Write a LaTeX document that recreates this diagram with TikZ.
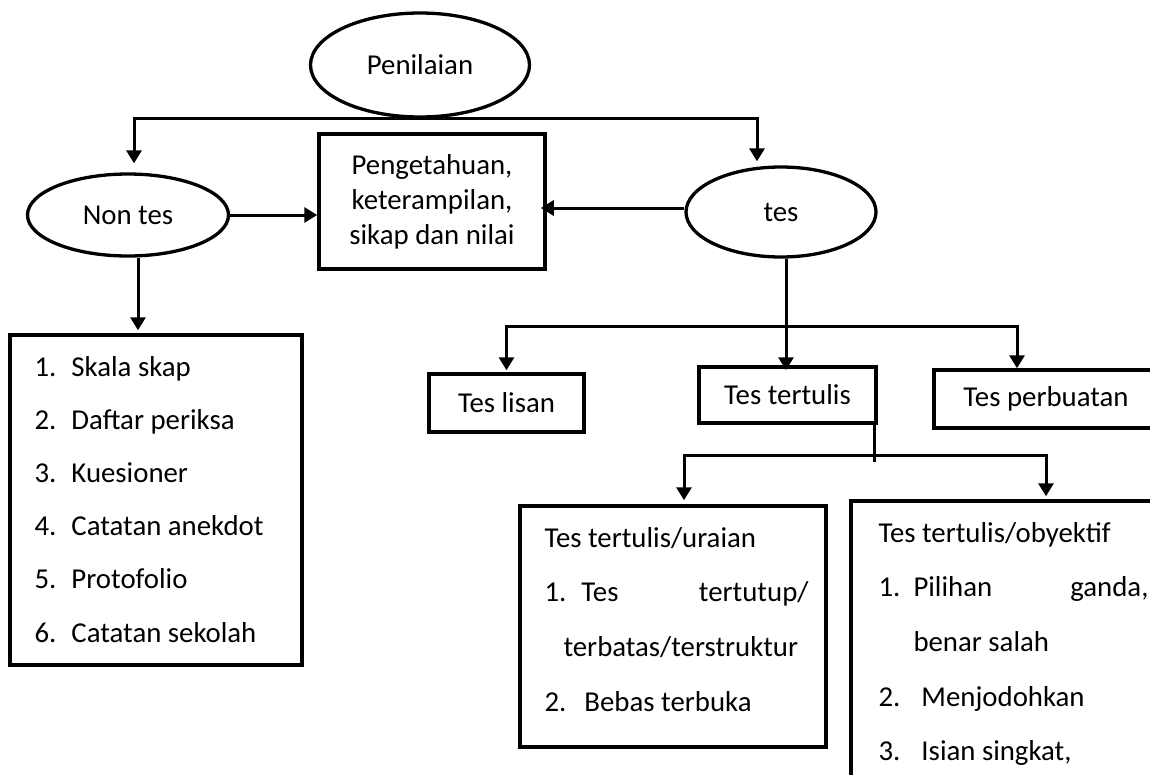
\documentclass[tikz,border=0pt]{standalone}
\usepackage{fontspec}
\setmainfont{Carlito}
\usetikzlibrary{shapes.geometric,arrows.meta}

\begin{document}
\begin{tikzpicture}[x=1pt, y=-1pt, line width=3pt, >={Triangle[length=13pt,width=15pt]},
  oval node/.style={ellipse,draw,line width=3.3pt,inner sep=0pt},
  box node/.style={rectangle,draw,line width=3.5pt,inner sep=0pt},
  list text/.style={anchor=base west,inner sep=0pt,align=flush left,font={\fontsize{28.8}{54.7}\selectfont}}]
\clip (0,0) rectangle (1150,774);
\begin{scope}[every node/.style={font={\fontsize{28.8}{35}\selectfont}}]
\node [oval node, minimum width=219pt, minimum height=104pt](pen) at (420,65) {Penilaian};
\node [oval node, minimum width=201pt, minimum height=82pt](nontes) at (128,215) {Non tes};
\node [oval node, minimum width=190pt, minimum height=90pt](tes) at (781,212) {tes};
\node [box node, minimum width=226pt, minimum height=135pt, align=center](ranah) at (432,201.5) {Pengetahuan,\\keterampilan,\\sikap dan nilai};
\node [box node, minimum width=292pt, minimum height=330pt](nontesbox) at (156,500) {};
\node [list text, text width=260pt, font={\fontsize{28.8}{53.2}\selectfont}](nontesitems) at (33,376) {%
  \makebox[37pt][l]{1.}Skala skap\\
  \makebox[37pt][l]{2.}Daftar periksa\\
  \makebox[37pt][l]{3.}Kuesioner\\
  \makebox[37pt][l]{4.}Catatan anekdot\\
  \makebox[37pt][l]{5.}Protofolio\\
  \makebox[37pt][l]{6.}Catatan sekolah};
\node [box node, minimum width=155pt, minimum height=58pt](lisan) at (506.5,403) {Tes lisan};
\node [box node, minimum width=177pt, minimum height=56pt](tertulis) at (787.5,395) {Tes tertulis};
\node [box node, minimum width=224pt, minimum height=58pt](perbuatan) at (1046,399) {Tes perbuatan};
\node [box node, minimum width=306pt, minimum height=241pt](uraian) at (673,626.5) {};
\node [list text, text width=264pt](uraianitems) at (543,547) {%
  Tes tertulis/uraian\\
  \makebox[37pt][l]{1.}Tes\hfill tertutup/\\
  \hspace*{19pt}terbatas/terstruktur\\
  \makebox[40pt][l]{2.}Bebas terbuka};
\node [box node, minimum width=390pt, minimum height=300pt](obyektif) at (1046,651) {};
\node [list text, text width=270pt](obyektifitems) at (877,542) {%
  Tes tertulis/obyektif\\
  \makebox[35pt][l]{1.}Pilihan\hfill ganda,\\
  \hspace*{35pt}benar salah\\
  \makebox[43pt][l]{2.}Menjodohkan\\
  \makebox[43pt][l]{3.}Isian singkat,};
\end{scope}
% penilaian splits in two
\draw [->, shorten >=9pt] (pen.south) -| ([xshift=6pt]nontes.north);
\draw [->, shorten >=4pt] (pen.south) -| ([xshift=-24pt]tes.north);
\draw [->] (nontes.east) -- (nontes.east -| ranah.west);
\draw [->, shorten >=-6pt] ([yshift=4pt]tes.west) -- ([yshift=4pt]tes.west -| ranah.east);
\draw [->, shorten >=3pt] ([xshift=10pt]nontes.south) -- ([xshift=10pt]nontes.south |- nontesbox.north);
% kinds of tes
\coordinate (tesbus) at (786,326);
\draw [->, shorten >=-5pt] ([xshift=5pt]tes.south) -- (tesbus) -- (tesbus |- tertulis.north);
\draw [->, shorten >=2pt] (tesbus) -| (lisan.north);
\draw [->] (tesbus) -| ([xshift=-29pt]perbuatan.north);
% tes tertulis
\coordinate (tulisbus) at (874,455);
\draw ([xshift=-3pt]tertulis.south east) -- ++(0,37);
\draw [->, shorten >=4pt] (tulisbus) -| ([xshift=11pt]uraian.north);
\draw [->, shorten >=3pt] (tulisbus) -| (obyektif.north);
\end{tikzpicture}
\end{document}
